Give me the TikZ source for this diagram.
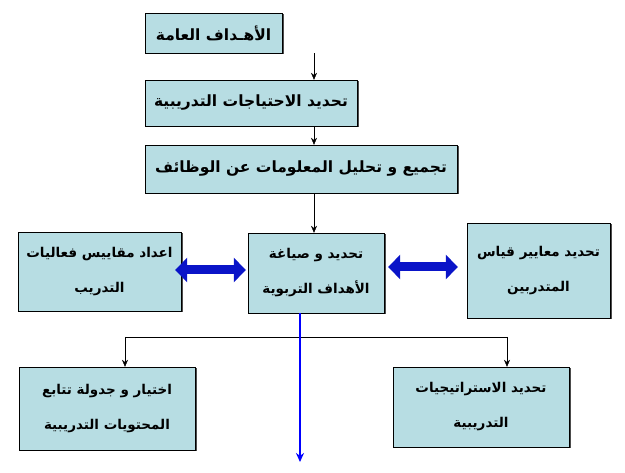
\documentclass[tikz,border=0pt]{standalone}
\usepackage{fontspec}
\newfontfamily\arabicfont[Script=Arabic]{DejaVu Sans}
\TeXXeTstate=1
\usetikzlibrary{shadows,arrows.meta}
\definecolor{boxfill}{HTML}{B7DDE3}
\definecolor{arrowblue}{HTML}{0A14C8}
\newcommand{\ar}[1]{\beginR #1\endR}
\tikzset{
  stepbox/.style={draw=black, fill=boxfill, rectangle, inner sep=0pt,
    drop shadow={shadow xshift=1.5pt, shadow yshift=-1.5pt, fill=black!70, opacity=1},
    font=\arabicfont\bfseries\fontsize{15.5}{35}\selectfont, align=center},
  smallbox/.style={stepbox, font=\arabicfont\bfseries\fontsize{13.5}{35}\selectfont},
  flow/.style={-{Stealth[length=7pt,width=6pt]}, thin},
  bigarrow/.style={{Triangle[length=12pt,width=24pt]}-{Triangle[length=12pt,width=24pt]}, line width=9pt, draw=arrowblue}
}
\begin{document}
\begin{tikzpicture}[x=1pt,y=-1pt]
\useasboundingbox (0,0) rectangle (625,473);

% upper chain
\node[stepbox, minimum width=137, minimum height=40] (goals) at (213.5,33) {\ar{الأهـداف العامة}};
\node[stepbox, minimum width=212, minimum height=46] (needs) at (251,103) {\ar{تحديد الاحتياجات التدريبية}};
\node[stepbox, minimum width=312, minimum height=48] (collect) at (301,169) {\ar{تجميع و تحليل المعلومات عن الوظائف}};

% middle row
\node[smallbox, minimum width=136, minimum height=80] (aims) at (316,273) {\ar{تحديد و صياغة}\\\ar{الأهداف التربوية}};
\node[smallbox, minimum width=163, minimum height=79] (measure) at (99.5,271.5) {\ar{اعداد مقاييس فعاليات}\\\ar{التدريب}};
\node[smallbox, minimum width=143, minimum height=95] (criteria) at (538.5,270.5) {\ar{تحديد معايير قياس}\\\ar{المتدربين}};

% lower row
\node[smallbox, minimum width=176, minimum height=83] (content) at (107,408.5) {\ar{اختيار و جدولة تتابع}\\\ar{المحتويات التدريبية}};
\node[smallbox, minimum width=176, minimum height=80] (strategy) at (481,407) {\ar{تحديد الاستراتيجيات}\\\ar{التدريبية}};

\coordinate (trunk) at (314,0);
\coordinate (split) at (300,337);
\coordinate (endpt) at (300,462);

\draw[flow] (goals.south -| trunk) -- (needs.north -| trunk);
\draw[flow] (needs.south -| trunk) -- (collect.north -| trunk);
\draw[flow] (collect.south -| trunk) -- (aims.north -| trunk);

\draw[bigarrow] ([xshift=-6pt]measure.east |- 0,270) -- ([xshift=-2pt]aims.west |- 0,270);
\draw[bigarrow] ([xshift=4pt]aims.east |- 0,267) -- ([xshift=-9pt]criteria.west |- 0,267);

\draw[thin] (split -| 125,0) -- (split -| 507,0);
\draw[flow] (split -| 125,0) -- (content.north -| 125,0);
\draw[flow] (split -| 507,0) -- (strategy.north -| 507,0);

\draw[-{Stealth[length=9pt,width=8pt]}, line width=1.6pt, blue] (aims.south -| split) -- (endpt);
\end{tikzpicture}
\end{document}
